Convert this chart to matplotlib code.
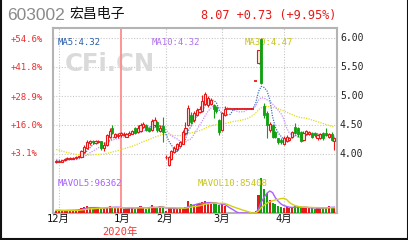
import numpy as np
import pandas as pd
import matplotlib
matplotlib.use('Agg')
import matplotlib.pyplot as plt
from matplotlib.lines import Line2D

# daily k-line, 2019-11-29 .. 2020-04-28 (suspended from 2020-03-04)
opens = [3.86, 3.87, 3.87, 3.89, 3.92, 3.92, 3.92, 3.93, 3.94, 3.95,
         4.04, 4.10, 4.19, 4.22, 4.19, 4.21, 4.22, 4.10, 4.15, 4.30,
         4.44, 4.29, 4.31, 4.32, 4.33, 4.30, 4.33, 4.35, 4.44, 4.38,
         4.40, 4.46, 4.50, 4.44, 4.42, 4.50, 4.55, 4.40, 4.48, 3.94,
         3.81, 3.92, 4.03, 4.08, 4.14, 4.18, 4.36, 4.50, 4.68, 4.58,
         4.68, 4.72, 4.74, 4.86, 4.84, 4.86, 4.84, 4.81, 4.58, 4.42,
         4.68, 4.78, 4.78, 4.78, 4.78, 4.78, 4.78, 4.78, 4.78, 4.78,
         4.78, 5.26, 5.57, 5.99, 4.82, 4.70, 4.41, 4.50, 4.38, 4.27,
         4.25, 4.18, 4.22, 4.24, 4.30, 4.47, 4.44, 4.38, 4.25, 4.35,
         4.35, 4.37, 4.36, 4.27, 4.28, 4.36, 4.37, 4.29, 4.35, 4.22]
closes = [3.88, 3.87, 3.89, 3.92, 3.93, 3.93, 3.93, 3.95, 3.96, 4.05,
          4.12, 4.20, 4.22, 4.20, 4.22, 4.23, 4.10, 4.15, 4.32, 4.40,
          4.36, 4.34, 4.33, 4.36, 4.35, 4.34, 4.37, 4.40, 4.37, 4.45,
          4.50, 4.52, 4.42, 4.40, 4.57, 4.58, 4.42, 4.45, 4.38, 3.95,
          3.94, 4.05, 4.10, 4.17, 4.20, 4.38, 4.45, 4.80, 4.56, 4.70,
          4.76, 4.78, 4.92, 5.04, 4.96, 4.93, 4.77, 4.74, 4.38, 4.70,
          4.78, 4.78, 4.78, 4.78, 4.78, 4.78, 4.78, 4.78, 4.78, 4.78,
          4.78, 5.26, 5.79, 5.22, 4.68, 4.50, 4.52, 4.30, 4.30, 4.20,
          4.21, 4.28, 4.30, 4.27, 4.38, 4.36, 4.34, 4.22, 4.37, 4.40,
          4.38, 4.30, 4.32, 4.33, 4.34, 4.27, 4.33, 4.34, 4.24, 4.28]
highs = [3.89, 3.89, 3.90, 3.93, 3.94, 3.94, 3.95, 3.96, 3.97, 4.07,
         4.15, 4.24, 4.25, 4.24, 4.24, 4.25, 4.23, 4.20, 4.35, 4.45,
         4.50, 4.37, 4.36, 4.38, 4.38, 4.36, 4.39, 4.42, 4.46, 4.50,
         4.53, 4.55, 4.52, 4.46, 4.60, 4.63, 4.57, 4.50, 4.64, 3.98,
         3.96, 4.07, 4.13, 4.19, 4.22, 4.42, 4.55, 4.84, 4.72, 4.74,
         4.79, 4.82, 5.02, 5.07, 5.00, 4.97, 4.86, 4.83, 4.60, 4.72,
         4.82, 4.78, 4.78, 4.78, 4.78, 4.78, 4.78, 4.78, 4.78, 4.78,
         4.78, 5.26, 5.79, 6.00, 4.88, 4.74, 4.55, 4.52, 4.40, 4.28,
         4.27, 4.31, 4.33, 4.30, 4.40, 4.53, 4.46, 4.40, 4.40, 4.42,
         4.40, 4.38, 4.38, 4.35, 4.36, 4.38, 4.45, 4.36, 4.38, 4.29]
lows = [3.85, 3.86, 3.86, 3.88, 3.91, 3.91, 3.91, 3.92, 3.93, 3.94,
        4.02, 4.09, 4.15, 4.17, 4.17, 4.19, 4.07, 4.05, 4.14, 4.28,
        4.34, 4.27, 4.28, 4.30, 4.31, 4.29, 4.32, 4.34, 4.35, 4.36,
        4.38, 4.44, 4.40, 4.38, 4.40, 4.46, 4.38, 4.38, 4.20, 3.91,
        3.79, 3.90, 4.01, 4.06, 4.12, 4.17, 4.33, 4.48, 4.52, 4.55,
        4.66, 4.70, 4.72, 4.84, 4.81, 4.84, 4.62, 4.70, 4.33, 4.40,
        4.66, 4.78, 4.78, 4.78, 4.78, 4.78, 4.78, 4.78, 4.78, 4.78,
        4.78, 5.26, 5.55, 5.20, 4.62, 4.28, 4.38, 4.27, 4.27, 4.17,
        4.18, 4.16, 4.20, 4.22, 4.28, 4.34, 4.30, 4.20, 4.22, 4.33,
        4.33, 4.28, 4.30, 4.24, 4.26, 4.25, 4.31, 4.27, 4.22, 4.07]
# volume, thousand shares
volumes = [34, 43, 34, 51, 51, 43, 51, 51, 60, 85,
           102, 119, 85, 68, 85, 102, 68, 85, 102, 119,
           102, 85, 85, 85, 68, 85, 102, 85, 68, 102,
           119, 85, 68, 85, 136, 102, 85, 119, 85, 34,
           102, 85, 68, 68, 85, 85, 102, 204, 153, 136,
           153, 170, 187, 204, 170, 153, 170, 153, 136, 153,
           119, 0, 0, 0, 0, 0, 0, 0, 0, 0,
           0, 34, 306, 595, 408, 340, 221, 170, 153, 119,
           102, 85, 102, 85, 102, 119, 102, 85, 85, 102,
           85, 85, 68, 85, 85, 102, 85, 119, 85, 102]
# closes / volumes before the first visible day (only feed the averages)
prev_closes = [4.30, 4.32, 4.28, 4.30, 4.26, 4.24, 4.25, 4.22, 4.20, 4.18,
               4.15, 4.16, 4.12, 4.10, 4.08, 4.05, 4.06, 4.02, 4.00, 3.98,
               3.96, 3.95, 3.93, 3.92, 3.90, 3.91, 3.89, 3.88, 3.87]
prev_volumes = [51, 43, 60, 51, 43, 51, 43, 51, 43]

month_idx = [1, 23, 39, 59, 81]
month_labels = ['12月', '1月', '2月', '3月', '4月']
price_ticks = [6.00, 5.50, 5.00, 4.50, 4.00]
pct_labels = ['+54.6%', '+41.8%', '+28.9%', '+16.0%', '+3.1%']

RED = '#e81818'
GREEN = '#10a010'
MONO = 'DejaVu Sans Mono'
CJK = ['DejaVu Sans Mono', 'Noto Sans CJK SC']

W, H = 408, 240
fig = plt.figure(figsize=(W / 100, H / 100), dpi=100)
fig.patch.set_facecolor('white')


def fy(py):
    return 1 - py / H


o = np.array(opens)
c = np.array(closes)
hi = np.array(highs)
lo = np.array(lows)
v = np.array(volumes) * 1000
n = len(c)
x = np.arange(n)

cl_all = pd.Series(prev_closes + closes)
ma5 = cl_all.rolling(5).mean().values[-n:]
ma10 = cl_all.rolling(10).mean().values[-n:]
ma30 = cl_all.rolling(30).mean().values[-n:]
v_all = pd.Series(prev_volumes + volumes) * 1000
mav5 = v_all.rolling(5).mean().values[-n:]
mav10 = v_all.rolling(10).mean().values[-n:]

xl = (-1.14, 99.93)

ax = fig.add_axes([53 / W, fy(213), 284 / W, 185 / H])
ax.set_xlim(*xl)
ax.set_ylim(4 - 59 / 58, 6 + 10 / 58)
ax.set_xticks([])
ax.set_yticks([])
for s in ax.spines.values():
    s.set_color('#b4b4b4')
    s.set_linewidth(1.5)

# grid
for p in price_ticks:
    ax.axhline(p, color='#c8c8c8', lw=0.8, ls=(0, (1, 1.5)), zorder=0)
for m in month_idx:
    if m == 23:
        ax.axvline(m, color='#ff8a8a', lw=1.3, zorder=0.5)
    else:
        ax.axvline(m, color='#c8c8c8', lw=0.8, ls=(0, (1, 1.5)), zorder=0)

# moving averages
ax.plot(x, ma30, color='#e0dc20', lw=0.9, ls=(0, (1, 1)), zorder=1.5)
ax.plot(x, ma10, color='#c890ff', lw=0.9, ls=(0, (1, 1)), zorder=1.5)
ax.plot(x, ma5, color='#3a78c8', lw=0.9, ls=(0, (1, 1)), zorder=1.5)

# candles
up = c >= o
flat = np.abs(c - o) < 0.005
cols = np.where(up, RED, GREEN)
ax.vlines(x, lo, hi, colors=cols, lw=0.8, zorder=2)
m_up = up & ~flat
m_dn = ~up & ~flat
ax.bar(x[m_up], (c - o)[m_up], bottom=o[m_up], width=0.75, facecolor='#ffe8e8',
       edgecolor=RED, lw=0.8, zorder=3)
ax.bar(x[m_dn], (o - c)[m_dn], bottom=c[m_dn], width=0.75, color=GREEN,
       edgecolor=GREEN, lw=0.6, zorder=3)
ax.hlines(c[flat], x[flat] - 0.55, x[flat] + 0.55, colors=RED, lw=1.3, zorder=3)

# watermark and MA labels
ax.text(3.0, 5.55, 'CFi.CN', fontsize=17.5, fontweight='bold', color='#dadada',
        family='DejaVu Sans', va='center', ha='left', zorder=0.2)
ax.text(0.6, 5.93, 'MA5:4.32', color='#2a5ea8', fontsize=6.5, family=MONO, va='center', zorder=1)
ax.text(34.0, 5.93, 'MA10:4.32', color='#b070f0', fontsize=6.5, family=MONO, va='center', zorder=1)
ax.text(67.2, 5.93, 'MA30:4.47', color='#c8c418', fontsize=6.5, family=MONO, va='center', zorder=1)

# volume panel
axv = fig.add_axes([53 / W, fy(213), 284 / W, 43 / H])
axv.set_xlim(*xl)
axv.set_ylim(0, 43 * 17000)
axv.axis('off')
axv.patch.set_alpha(0)
axv.bar(x, v, width=0.75, color=cols, lw=0, zorder=2)
axv.plot(x, mav5, color='#a860ff', lw=1.0, zorder=3)
axv.plot(x, mav10, color='#d4d010', lw=1.0, zorder=3)
axv.text(0.6, 43 * 17000 * (29 / 43), 'MAVOL5:96362', color='#a860ff', fontsize=6.5,
         family=MONO, va='center')
axv.text(50.5, 43 * 17000 * (29 / 43), 'MAVOL10:85408', color='#c8c418', fontsize=6.5,
         family=MONO, va='center')

# axis labels
for p, y in zip(price_ticks, [38, 67, 96, 125, 154]):
    fig.text(340 / W, fy(y), '%.2f' % p, fontsize=7, family=MONO, color='#222222', va='center')
for lab, y in zip(pct_labels, [39, 67, 97, 126, 154]):
    fig.text(11 / W, fy(y), lab, fontsize=6.5, family=MONO, color='#e83030', va='center')
for lab, px in zip(month_labels, [58, 122, 165, 222, 284]):
    fig.text(px / W, fy(219), lab, fontsize=7.5, family=CJK, color='#111111',
             ha='center', va='center')
fig.text(120 / W, fy(232), '2020年', fontsize=7.5, family=CJK, color='#ff3030',
         ha='center', va='center')

# header
fig.text(7 / W, fy(15), '603002', fontsize=12.5, family='Liberation Sans', color='#8a8a8a',
         va='center')
fig.text(69 / W, fy(14), '宏昌电子', fontsize=10, family='Noto Sans CJK SC', color='#111111',
         va='center')
fig.text(201 / W, fy(16), '8.07 +0.73 (+9.95%)', fontsize=8.6, family=MONO, color=RED,
         va='center')

# outer frame
for xs, ys in [([0.5, 0.5], [0, H]), ([W - 0.5, W - 0.5], [0, H]), ([0, W], [H - 1, H - 1])]:
    fig.add_artist(Line2D([a / W for a in xs], [fy(b) for b in ys], color='#111111', lw=1.5,
                          transform=fig.transFigure))

fig.savefig('out.png', dpi=100)
